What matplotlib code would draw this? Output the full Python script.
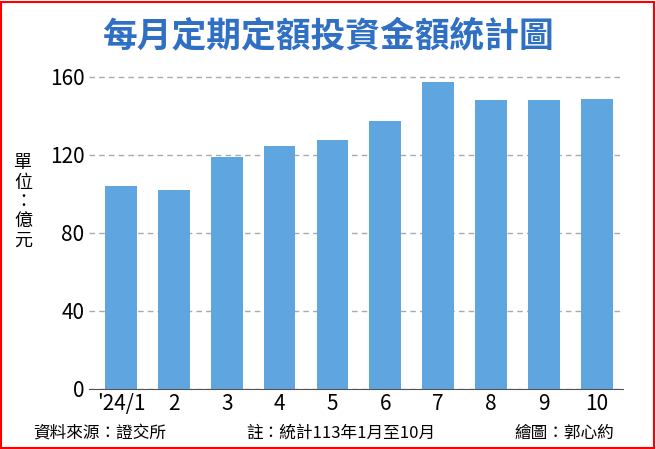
import matplotlib

matplotlib.use("Agg")
import matplotlib.pyplot as plt
from matplotlib.patches import Rectangle

plt.rcParams["font.family"] = ["Noto Sans CJK TC", "DejaVu Sans"]

months = ["'24/1", "2", "3", "4", "5", "6", "7", "8", "9", "10"]
amounts = [104, 102, 119, 124.6, 127.7, 137, 157.4, 148, 148, 148.7]
yticks = [0, 40, 80, 120, 160]

fig = plt.figure(figsize=(6.56, 4.49), dpi=100)
ax = fig.add_axes([0.136, 0.134, 0.814, 0.739])

ax.bar(range(len(months)), amounts, width=0.6, color="#5fa5e0", zorder=2)
ax.set_ylim(0, 170)
ax.set_xlim(-0.6, len(months) - 0.5)
ax.set_yticks(yticks)
ax.set_xticks(range(len(months)))
ax.set_xticklabels(months)
ax.tick_params(axis="both", labelsize=15, length=0)
ax.tick_params(axis="x", pad=3)
ax.yaxis.grid(True, linestyle=(0, (4, 3)), color="#aaaaaa", linewidth=1, zorder=0)
for side in ("top", "right", "left"):
    ax.spines[side].set_visible(False)
ax.spines["bottom"].set_color("#555555")

fig.text(0.5, 0.92, "每月定期定額投資金額統計圖", ha="center", va="center",
         fontsize=25, fontweight="bold", color="#2f6fc4")
fig.text(0.035, 0.55, "單\n位\n：\n億\n元", ha="center", va="center",
         fontsize=13, linespacing=1.1)
fig.text(0.05, 0.035, "資料來源：證交所", fontsize=12, va="center")
fig.text(0.375, 0.035, "註：統計113年1月至10月", fontsize=12, va="center")
fig.text(0.785, 0.035, "繪圖：郭心約", fontsize=12, va="center")

fig.patches.append(Rectangle((0.002, 0.003), 0.995, 0.993, transform=fig.transFigure,
                             fill=False, edgecolor="red", linewidth=1.5))

fig.savefig("out.png")
